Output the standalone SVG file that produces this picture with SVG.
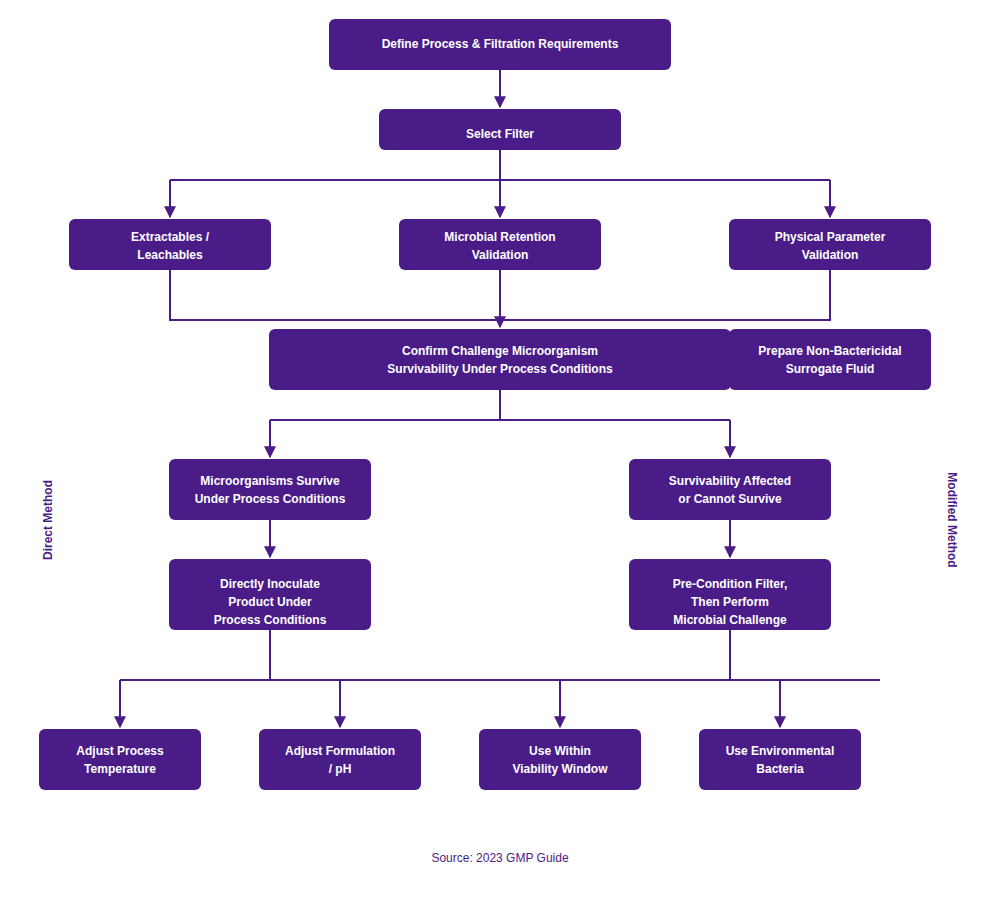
<svg xmlns="http://www.w3.org/2000/svg" width="1000" height="900" viewBox="0 0 1000 900">
<style>
.n rect{fill:#4a1c87;}
.n text{fill:#fff;font-family:"Liberation Sans",Arial,sans-serif;font-size:12px;font-weight:bold;text-anchor:middle;}
.c path{fill:none;stroke:#4a1c87;stroke-width:2;}
.lbl{fill:#4a1c87;font-family:"Liberation Sans",Arial,sans-serif;font-size:12px;font-weight:bold;text-anchor:middle;}
</style>
<defs><marker id="a" viewBox="0 0 10 10" refX="9" refY="5" markerWidth="6" markerHeight="6" orient="auto"><path d="M0,0L10,5L0,10z" fill="#4a1c87"/></marker></defs>
<rect width="1000" height="900" fill="#fff"/>
<g class="c">
<path d="M500,70V107" marker-end="url(#a)"/>
<path d="M500,150V180M170,180H830"/>
<path d="M170,180V217" marker-end="url(#a)"/>
<path d="M500,180V217" marker-end="url(#a)"/>
<path d="M830,180V217" marker-end="url(#a)"/>
<path d="M170,270V320H830V270"/>
<path d="M500,270V327" marker-end="url(#a)"/>
<path d="M500,390V420M270,420H730"/>
<path d="M270,420V457" marker-end="url(#a)"/>
<path d="M730,420V457" marker-end="url(#a)"/>
<path d="M270,520V557" marker-end="url(#a)"/>
<path d="M730,520V557" marker-end="url(#a)"/>
<path d="M270,630V680M730,630V680M120,680H880"/>
<path d="M120,680V727" marker-end="url(#a)"/>
<path d="M340,680V727" marker-end="url(#a)"/>
<path d="M560,680V727" marker-end="url(#a)"/>
<path d="M780,680V727" marker-end="url(#a)"/>
</g>
<g id="define" class="n"><rect x="329" y="19" width="342" height="51" rx="6"/><text x="500" y="48">Define Process &amp; Filtration Requirements</text></g>
<g id="select" class="n"><rect x="379" y="109" width="242" height="41" rx="6"/><text x="500" y="138">Select Filter</text></g>
<g id="extract" class="n"><rect x="69" y="219" width="202" height="51" rx="6"/><text x="170" y="241">Extractables /</text><text x="170" y="259">Leachables</text></g>
<g id="microbial" class="n"><rect x="399" y="219" width="202" height="51" rx="6"/><text x="500" y="241">Microbial Retention</text><text x="500" y="259">Validation</text></g>
<g id="physical" class="n"><rect x="729" y="219" width="202" height="51" rx="6"/><text x="830" y="241">Physical Parameter</text><text x="830" y="259">Validation</text></g>
<g id="confirm" class="n"><rect x="269" y="329" width="462" height="61" rx="6"/><text x="500" y="355">Confirm Challenge Microorganism</text><text x="500" y="373">Survivability Under Process Conditions</text></g>
<g id="prepare" class="n"><rect x="729" y="329" width="202" height="61" rx="6"/><text x="830" y="355">Prepare Non-Bactericidal</text><text x="830" y="373">Surrogate Fluid</text></g>
<g id="survive" class="n"><rect x="169" y="459" width="202" height="61" rx="6"/><text x="270" y="485">Microorganisms Survive</text><text x="270" y="503">Under Process Conditions</text></g>
<g id="affected" class="n"><rect x="629" y="459" width="202" height="61" rx="6"/><text x="730" y="485">Survivability Affected</text><text x="730" y="503">or Cannot Survive</text></g>
<g id="inoculate" class="n"><rect x="169" y="559" width="202" height="71" rx="6"/><text x="270" y="588">Directly Inoculate</text><text x="270" y="606">Product Under</text><text x="270" y="624">Process Conditions</text></g>
<g id="precondition" class="n"><rect x="629" y="559" width="202" height="71" rx="6"/><text x="730" y="588">Pre-Condition Filter,</text><text x="730" y="606">Then Perform</text><text x="730" y="624">Microbial Challenge</text></g>
<g id="temp" class="n"><rect x="39" y="729" width="162" height="61" rx="6"/><text x="120" y="755">Adjust Process</text><text x="120" y="773">Temperature</text></g>
<g id="form" class="n"><rect x="259" y="729" width="162" height="61" rx="6"/><text x="340" y="755">Adjust Formulation</text><text x="340" y="773">/ pH</text></g>
<g id="window" class="n"><rect x="479" y="729" width="162" height="61" rx="6"/><text x="560" y="755">Use Within</text><text x="560" y="773">Viability Window</text></g>
<g id="env" class="n"><rect x="699" y="729" width="162" height="61" rx="6"/><text x="780" y="755">Use Environmental</text><text x="780" y="773">Bacteria</text></g>
<text class="lbl" transform="translate(52,520) rotate(-90)">Direct Method</text>
<text class="lbl" transform="translate(948,520) rotate(90)">Modified Method</text>
<text x="500" y="862" fill="#4a1c87" font-family="Liberation Sans,Arial,sans-serif" font-size="12" text-anchor="middle">Source: 2023 GMP Guide</text>
</svg>
